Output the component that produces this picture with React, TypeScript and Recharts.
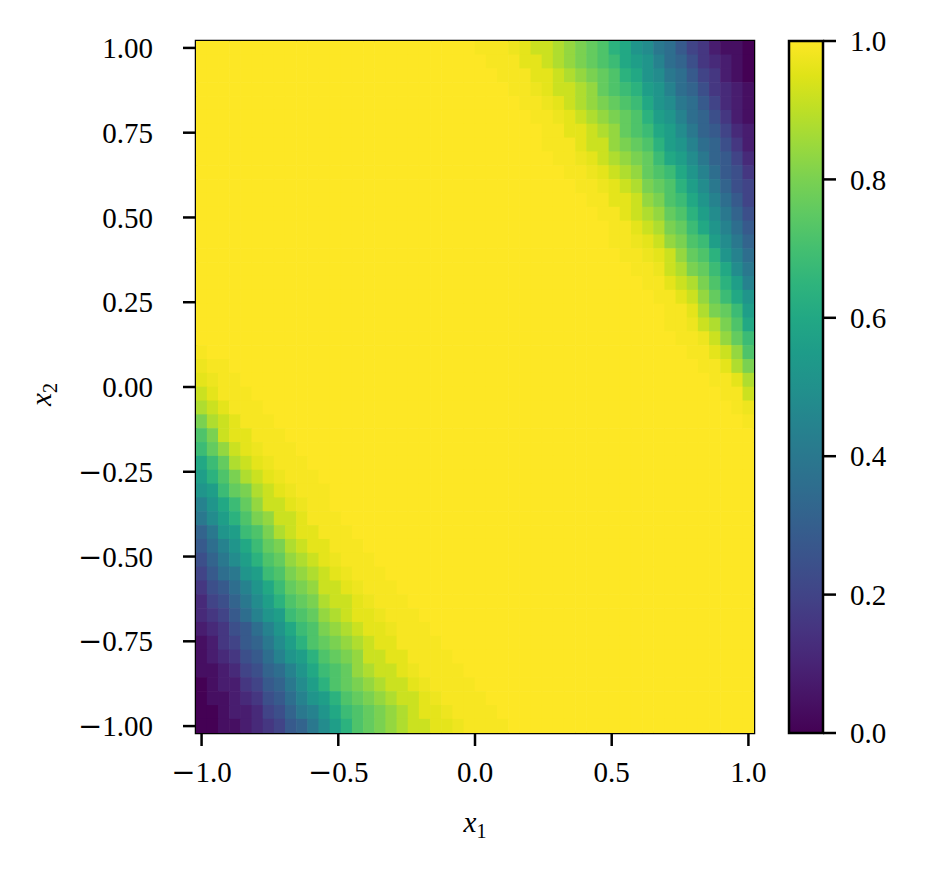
import { ScatterChart, Scatter, XAxis, YAxis, ReferenceArea } from "recharts";

// grid: 50 x 50 cells, centres from -1 to 1 on both axes
const N = 50;
const HALF = 1 / (N - 1);

const X_TICKS = [-1, -0.5, 0, 0.5, 1];
const X_TICK_LABELS = ["\u22121.0", "\u22120.5", "0.0", "0.5", "1.0"];
const Y_TICKS = [-1, -0.75, -0.5, -0.25, 0, 0.25, 0.5, 0.75, 1];
const Y_TICK_LABELS = ["\u22121.00", "\u22120.75", "\u22120.50", "\u22120.25", "0.00", "0.25", "0.50", "0.75", "1.00"];
const CB_TICKS = [0, 0.2, 0.4, 0.6, 0.8, 1];
const CB_TICK_LABELS = ["0.0", "0.2", "0.4", "0.6", "0.8", "1.0"];

// viridis at 0, 0.05, ... 1.0
const VIRIDIS = [
  "#440154", "#471365", "#482475", "#463480", "#414487", "#3b528b", "#355f8d",
  "#2f6c8e", "#2a788e", "#25848e", "#21918c", "#1e9c89", "#22a884", "#2fb47c",
  "#44bf70", "#5ec962", "#7ad151", "#9bd93c", "#bddf26", "#dfe318", "#fde725",
];

// cell values: a..z -> 0 .. 1 in steps of 0.04, plus Y = 0.975 and Z = 0.99 for the faint edge
const LEVELS = "abcdefghijklmnopqrstuvwxyz";
const EDGE_LEVELS: Record<string, number> = { Y: 0.975, Z: 0.99 };

// top rows (row 0 = x2 = 1), right-aligned; cells left of each string are 1.0
const TOP_RIGHT_TAILS = [
  "ZZZYyxxwvutsqpnmkjhfecbba",
  "ZZZyyxwvutsrponljigedcba",
  "ZZZyyxwvutsqpnmkjhfecba",
  "ZZYyxxwvtsrqonljigedcb",
  "ZZYyxwvutsrpnmkjhfdcb",
  "ZZYyxwvutsqonljigecb",
  "ZZyyxwvtsrpomkihfdc",
  "ZZZyxxvutsqonljigec",
  "ZZYyxwvutrpomkihfd",
  "ZZYyxwvtsrpnljhge",
  "ZZYyxwutsqomkigf",
  "ZZyyxvusrpnljhf",
  "ZZyxwvtsqomkig",
  "ZZyxwutrpnljh",
  "ZZYyxvusromki",
  "ZZYyxvtsqnlj",
  "ZZYxwutrpmk",
  "ZZyxwusqol",
  "ZZyxvtrpn",
  "ZZywutro",
  "ZZYxwusp",
  "ZZYxvtr",
  "ZZyxvs",
  "ZZywu",
  "ZZyw",
  "ZZx",
  "ZY",
  "Z",
];

// bottom rows starting at row 22, left-aligned; cells right of each string are 1.0
const BOTTOM_LEFT_FIRST_ROW = 22;
const BOTTOM_LEFT_HEADS = [
  "Z",
  "YZZ",
  "yYZZ",
  "xyZZZ",
  "wxyZZZ",
  "uwxyZZZ",
  "suxyyZZZ",
  "rtvxyYZZZ",
  "prtwxyYZZZ",
  "oqsuwxyYZZZ",
  "nortuwxyYZZZ",
  "lnprtvxxyYZZ",
  "kmoqsuvxxyZZZ",
  "iknorsuwxyyZZZ",
  "hjlnprtuwxyyZZZ",
  "gikmoqstvwxyYZZZ",
  "fhjknorsuvwxyYZZZ",
  "eghjlnprtuvxxyYZZZ",
  "dfgikmoqstuwxxyYZZZ",
  "defhjlnorstvwxyyYZZZ",
  "cdeghjlnprsuvwxyyYZZZ",
  "bcefhikmoqstuvwxyyZZZZ",
  "bcdeghjlnoqstuvxxyyZZZZ",
  "bbcdfgijlnprstvwxxyYZZZZ",
  "abccefhikmoqstuvwxxyYZZZZ",
  "abbcdeghjlnoqstuvwxxyYZZZZ",
  "aabccdfgiklnprstuvwxyyYZZZZ",
  "aabbcdefhikmoqstuvwxxyyYZZZZ",
];

const FONT = "'Liberation Serif', 'DejaVu Serif', serif";
const MINUS_FONT = "'DejaVu Sans', sans-serif";
const FONT_SIZE = 29;
const W = 927;
const H = 869;
const PLOT = { left: 196, top: 41, right: 754, bottom: 733 };
const CELL_W = (PLOT.right - PLOT.left) / N;
const CELL_H = (PLOT.bottom - PLOT.top) / N;

function hexToRgb(h: string) {
  return [parseInt(h.slice(1, 3), 16), parseInt(h.slice(3, 5), 16), parseInt(h.slice(5, 7), 16)];
}

function viridis(v: number) {
  const steps = VIRIDIS.length - 1;
  const t = Math.max(0, Math.min(1, v)) * steps;
  const i = Math.min(steps - 1, Math.floor(t));
  const f = t - i;
  const a = hexToRgb(VIRIDIS[i]);
  const b = hexToRgb(VIRIDIS[i + 1]);
  const c = a.map((x, k) => Math.round(x + (b[k] - x) * f));
  return `rgb(${c[0]},${c[1]},${c[2]})`;
}

function level(ch: string) {
  if (ch in EDGE_LEVELS) return EDGE_LEVELS[ch];
  return LEVELS.indexOf(ch) / 25;
}

function cellValue(i: number, j: number) {
  if (i < TOP_RIGHT_TAILS.length) {
    const tail = TOP_RIGHT_TAILS[i];
    const start = N - tail.length;
    if (j >= start) return level(tail[j - start]);
  }
  const bi = i - BOTTOM_LEFT_FIRST_ROW;
  if (bi >= 0 && bi < BOTTOM_LEFT_HEADS.length) {
    const head = BOTTOM_LEFT_HEADS[bi];
    if (j < head.length) return level(head[j]);
  }
  return 1;
}

const cells: { x: number; y: number; v: number; color: string }[] = [];
for (let i = 0; i < N; i++) {
  for (let j = 0; j < N; j++) {
    const v = cellValue(i, j);
    cells.push({ x: -1 + (2 * j) / (N - 1), y: 1 - (2 * i) / (N - 1), v, color: viridis(v) });
  }
}

const DOMAIN: [number, number] = [-1 - HALF, 1 + HALF];
const tickLine = { stroke: "#000", strokeWidth: 2.5 };

const Cell = (p: any) => (
  <rect
    x={p.cx - CELL_W / 2 - 0.3}
    y={p.cy - CELL_H / 2 - 0.3}
    width={CELL_W + 0.6}
    height={CELL_H + 0.6}
    fill={p.payload.color}
  />
);

const findLabel = (ticks: number[], labels: string[], v: number) => {
  const k = ticks.findIndex((t) => Math.abs(t - v) < 1e-9);
  return k >= 0 ? labels[k] : String(v);
};

// tick text with a wider minus sign, like the TeX one
const makeTick = (ticks: number[], labels: string[], anchor: "start" | "middle" | "end", dy: string) => (p: any) => {
  const s = findLabel(ticks, labels, p.payload.value);
  const neg = s.startsWith("\u2212");
  return (
    <text x={p.x} y={p.y} textAnchor={anchor} dy={dy} fill="#000" fontSize={FONT_SIZE} fontFamily={FONT}>
      {neg && <tspan fontFamily={MINUS_FONT}>{"\u2212"}</tspan>}
      <tspan>{neg ? s.slice(1) : s}</tspan>
    </text>
  );
};

const CB_ANCHORS = [{ x: 0, y: 0 }, { x: 1, y: 1 }];

export default function App() {
  return (
    <div style={{ position: "absolute", left: 0, top: 0, width: W, height: H, background: "#fff", fontFamily: FONT }}>
      <div style={{ position: "absolute", left: 0, top: 0 }}>
        <ScatterChart
          width={W}
          height={H}
          margin={{ top: PLOT.top, left: PLOT.left - 100, right: W - PLOT.right, bottom: H - PLOT.bottom - 60 }}
        >
          <XAxis
            type="number"
            dataKey="x"
            domain={DOMAIN}
            ticks={X_TICKS}
            allowDataOverflow
            height={60}
            tickSize={13}
            tickMargin={15}
            axisLine={false}
            tickLine={tickLine}
            tick={makeTick(X_TICKS, X_TICK_LABELS, "middle", "0.71em")}
            interval={0}
          />
          <YAxis
            type="number"
            dataKey="y"
            domain={DOMAIN}
            ticks={Y_TICKS}
            allowDataOverflow
            width={100}
            tickSize={13}
            tickMargin={30}
            axisLine={false}
            tickLine={tickLine}
            tick={makeTick(Y_TICKS, Y_TICK_LABELS, "end", "0.35em")}
            interval={0}
          />
          <Scatter data={cells} shape={Cell} isAnimationActive={false} />
          <ReferenceArea
            x1={DOMAIN[0]}
            x2={DOMAIN[1]}
            y1={DOMAIN[0]}
            y2={DOMAIN[1]}
            fill="none"
            stroke="#000"
            strokeWidth={2.5}
            ifOverflow="visible"
          />
        </ScatterChart>
      </div>

      <div style={{ position: "absolute", left: 769, top: 0 }}>
        <ScatterChart width={158} height={H} margin={{ top: PLOT.top, left: 20, right: 0, bottom: H - PLOT.bottom }}>
          <defs>
            <linearGradient id="viridisBar" x1="0" y1="1" x2="0" y2="0">
              {VIRIDIS.map((c, k) => (
                <stop key={k} offset={`${k * 5}%`} stopColor={c} />
              ))}
            </linearGradient>
          </defs>
          <XAxis type="number" dataKey="x" domain={[0, 1]} hide />
          <YAxis
            type="number"
            dataKey="y"
            orientation="right"
            domain={[0, 1]}
            ticks={CB_TICKS}
            width={104}
            tickSize={13}
            tickMargin={14}
            axisLine={false}
            tickLine={tickLine}
            tick={makeTick(CB_TICKS, CB_TICK_LABELS, "start", "0.35em")}
            interval={0}
          />
          <Scatter data={CB_ANCHORS} shape={() => <g />} isAnimationActive={false} />
          <ReferenceArea
            x1={0}
            x2={1}
            y1={0}
            y2={1}
            fill="url(#viridisBar)"
            fillOpacity={1}
            stroke="#000"
            strokeWidth={2.5}
            ifOverflow="visible"
          />
        </ScatterChart>
      </div>

      <div style={{ position: "absolute", left: 440, top: 808, width: 70, textAlign: "center", fontSize: 29, lineHeight: "28px" }}>
        <i>x</i>
        <sub style={{ fontSize: 20, verticalAlign: "-6px" }}>1</sub>
      </div>
      <div
        style={{
          position: "absolute",
          left: 10,
          top: 376,
          width: 70,
          textAlign: "center",
          fontSize: 29,
          lineHeight: "28px",
          transform: "rotate(-90deg)",
        }}
      >
        <i>x</i>
        <sub style={{ fontSize: 20, verticalAlign: "-6px" }}>2</sub>
      </div>
    </div>
  );
}
